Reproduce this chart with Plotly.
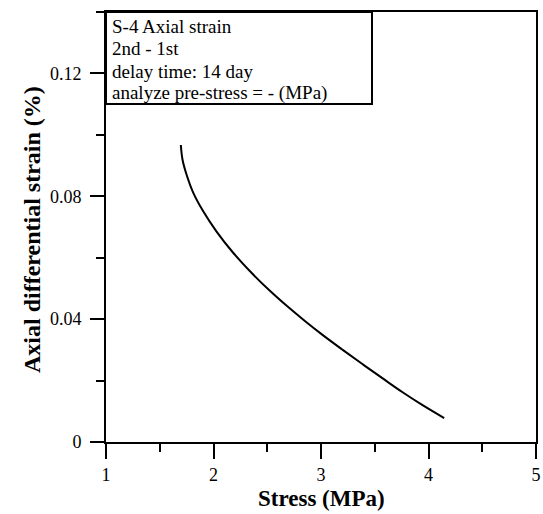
import plotly.graph_objects as go

stress = [1.696, 1.712, 1.749, 1.810, 1.903, 2.027, 2.181, 2.367, 2.522, 2.692,
          2.850, 3.017, 3.202, 3.388, 3.574, 3.759, 3.945, 4.146]
strain = [0.0967, 0.0919, 0.0871, 0.0813, 0.0752, 0.0686, 0.0617, 0.0546, 0.0493, 0.0440,
          0.0394, 0.0348, 0.0300, 0.0253, 0.0207, 0.0162, 0.0120, 0.0078]

x_ticks = [1, 2, 3, 4, 5]
y_ticks = [0, 0.04, 0.08, 0.12]
y_ticklabels = ["0", "0.04", "0.08", "0.12"]

info_lines = ["S-4 Axial strain", "2nd - 1st", "delay time: 14 day", "analyze pre-stress = - (MPa)"]
x_title = "Stress (MPa)"
y_title = "Axial differential strain (%)"

FONT = "Liberation Serif"
L, R, T, B = 106, 7, 12, 72
W, H = 543, 514
PW, PH = W - L - R, H - T - B


def px_to_paper_y(py):
    return (H - B - py) / PH


def px_to_paper_x(px):
    return (px - L) / PW


fig = go.Figure()
fig.add_trace(go.Scatter(x=stress, y=strain, mode="lines",
                         line=dict(color="black", width=2, shape="spline", smoothing=1),
                         showlegend=False, hoverinfo="skip"))

fig.update_layout(
    width=W, height=H, autosize=False,
    margin=dict(l=L, r=R, t=T, b=B, autoexpand=False),
    paper_bgcolor="white", plot_bgcolor="white",
    font=dict(family=FONT, color="black", size=18),
)

fig.update_xaxes(
    range=[1, 5], tickvals=x_ticks, ticktext=[str(v) for v in x_ticks],
    ticks="outside", ticklen=15, tickwidth=2, tickcolor="black",
    minor=dict(dtick=0.5, ticks="outside", ticklen=8, tickwidth=2, tickcolor="black", showgrid=False),
    showline=True, linecolor="black", linewidth=2, mirror=True,
    showgrid=False, zeroline=False, ticklabelstandoff=0,
    tickfont=dict(family=FONT, size=18, color="black"),
)
fig.update_yaxes(
    range=[0, 0.14], tickvals=y_ticks, ticktext=y_ticklabels,
    ticks="outside", ticklen=14, tickwidth=2, tickcolor="black",
    minor=dict(dtick=0.02, ticks="outside", ticklen=8, tickwidth=2, tickcolor="black", showgrid=False),
    showline=True, linecolor="black", linewidth=2, mirror=True,
    showgrid=False, zeroline=False, ticklabelstandoff=5,
    tickfont=dict(family=FONT, size=18, color="black"),
)

# axis titles
fig.add_annotation(xref="paper", yref="paper", x=0.5, y=px_to_paper_y(499),
                   xanchor="center", yanchor="middle", text="<b>" + x_title + "</b>",
                   showarrow=False, font=dict(family=FONT, size=23, color="black"))
fig.add_annotation(xref="paper", yref="paper", x=px_to_paper_x(32), y=px_to_paper_y(230),
                   xanchor="center", yanchor="middle", text="<b>" + y_title + "</b>", textangle=-90,
                   showarrow=False, font=dict(family=FONT, size=24, color="black"))

# info box
fig.add_shape(type="rect", xref="paper", yref="paper",
              x0=0, x1=px_to_paper_x(372), y0=px_to_paper_y(104), y1=1,
              line=dict(color="black", width=2), fillcolor="white", layer="above")
line_centers = [26, 48.5, 71, 93.5]
for txt, cy in zip(info_lines, line_centers):
    fig.add_annotation(xref="paper", yref="paper", x=px_to_paper_x(110), y=px_to_paper_y(cy),
                       xanchor="left", yanchor="middle", text=txt, showarrow=False,
                       font=dict(family=FONT, size=19, color="black"))

fig.write_html("out.html")
